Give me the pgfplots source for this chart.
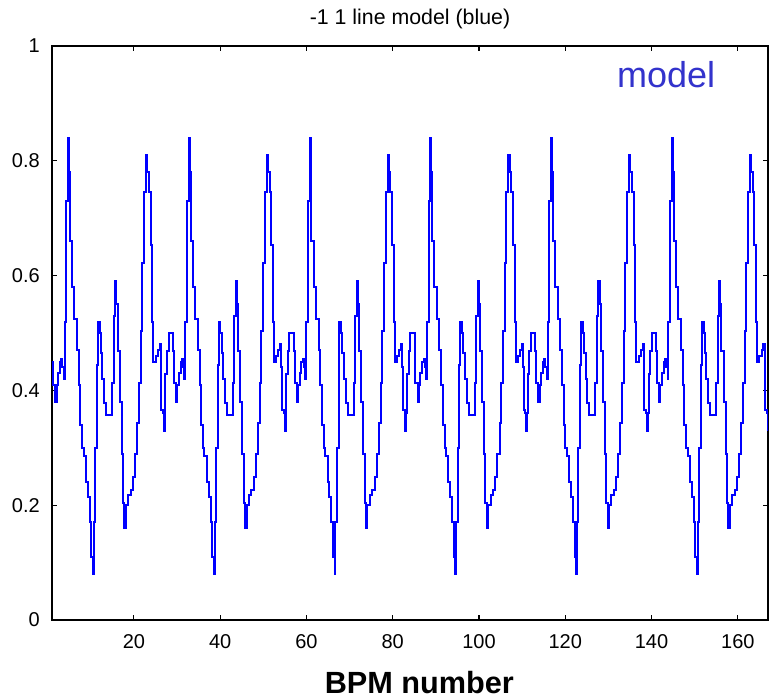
\documentclass[border=0pt]{standalone}
\usepackage{fontspec}
\setmainfont{Liberation Sans}
\usepackage{pgfplots}
\pgfplotsset{compat=1.18}
\usetikzlibrary{calc}

\definecolor{modeltext}{RGB}{51,51,204}

\begin{document}
\begin{tikzpicture}
\begin{axis}[
    width=537pt, height=430.5pt, scale only axis,
    xmin=1, xmax=167, ymin=0, ymax=1,
    xtick={20,40,...,160},
    ytick={0,0.2,0.4,0.6,0.8,1},
    yticklabels={0,0.2,0.4,0.6,0.8,1},
    tick align=inside, tick pos=both,
    major tick length=4pt,
    axis line style={line width=0.9pt},
    every tick/.style={black, line width=0.8pt},
    /pgf/number format/assume math mode=true,
    tick label style={font=\fontsize{15}{15}\selectfont},
    xticklabel style={anchor=base, yshift=-21pt},
    yticklabel style={anchor=east, inner sep=0pt, xshift=-9pt},
    title={-1 1 line model (blue)},
    title style={font=\fontsize{16}{16}\selectfont, at={(0.5,1)}, anchor=base, yshift=9.75pt},
    xlabel={BPM number},
    xlabel style={font=\fontsize{23}{23}\selectfont\bfseries, at={(0.513,0)}, anchor=base, yshift=-54.75pt},
    clip=true,
]
% period 1
\addplot[const plot, draw=blue, line width=1.5pt, line join=miter, mark=none] coordinates {
(1.00,0.45) (1.25,0.41) (1.75,0.38) (2.05,0.41) (2.40,0.43) (2.80,0.45) (3.15,0.455) (3.40,0.44) (3.70,0.42) (3.90,0.52)
(4.30,0.73) (4.75,0.84) (4.95,0.78) (5.15,0.66) (5.65,0.58) (6.20,0.525) (6.80,0.47) (7.20,0.41) (7.60,0.34) (8.00,0.30)
(8.35,0.285) (8.90,0.24) (9.30,0.215) (9.75,0.17) (10.15,0.11) (10.50,0.08) (10.70,0.17) (11.05,0.30) (11.45,0.445) (11.65,0.52)
(12.05,0.50) (12.30,0.465) (12.70,0.42) (13.10,0.378) (13.60,0.357) (15.00,0.413) (15.30,0.53) (15.70,0.59) (15.95,0.55) (16.20,0.468)
(16.70,0.38) (17.15,0.29) (17.50,0.203) (17.80,0.16) (18.10,0.20) (18.70,0.217) (19.25,0.226) (19.80,0.249) (20.25,0.29) (20.80,0.343)
(21.20,0.413) (21.55,0.503) (21.95,0.622) (22.35,0.745) (22.80,0.81) (23.10,0.78) (23.45,0.745) (23.85,0.654) (24.25,0.52) (24.50,0.45)
(25.00,0.46) (25.50,0.47) (25.95,0.48) (26.20,0.44) (26.35,0.366) (26.75,0.36) (26.95,0.33) (27.15,0.36) (27.30,0.428) (27.70,0.468)
(28.05,0.50)
% period 2
(29.05,0.468) (29.25,0.413) (29.75,0.38) (30.05,0.41) (30.40,0.43) (30.80,0.45) (31.15,0.455) (31.40,0.44) (31.70,0.42) (31.90,0.52)
(32.30,0.73) (32.75,0.84) (32.95,0.78) (33.15,0.66) (33.65,0.58) (34.20,0.525) (34.80,0.47) (35.20,0.41) (35.60,0.34) (36.00,0.30)
(36.35,0.285) (36.90,0.24) (37.30,0.215) (37.75,0.17) (38.15,0.11) (38.50,0.08) (38.70,0.17) (39.05,0.30) (39.45,0.445) (39.65,0.52)
(40.05,0.50) (40.30,0.465) (40.70,0.42) (41.10,0.378) (41.60,0.357) (43.00,0.413) (43.30,0.53) (43.70,0.59) (43.95,0.55) (44.20,0.468)
(44.70,0.38) (45.15,0.29) (45.50,0.203) (45.80,0.16) (46.10,0.20) (46.70,0.217) (47.25,0.226) (47.80,0.249) (48.25,0.29) (48.80,0.343)
(49.20,0.413) (49.55,0.503) (49.95,0.622) (50.35,0.745) (50.80,0.81) (51.10,0.78) (51.45,0.745) (51.85,0.654) (52.25,0.52) (52.50,0.45)
(53.00,0.46) (53.50,0.47) (53.95,0.48) (54.20,0.44) (54.35,0.366) (54.75,0.36) (54.95,0.33) (55.15,0.36) (55.30,0.428) (55.70,0.468)
(56.05,0.50)
% period 3
(57.05,0.468) (57.25,0.413) (57.75,0.38) (58.05,0.41) (58.40,0.43) (58.80,0.45) (59.15,0.455) (59.40,0.44) (59.70,0.42) (59.90,0.52)
(60.30,0.73) (60.75,0.84) (60.95,0.78) (61.15,0.66) (61.65,0.58) (62.20,0.525) (62.80,0.47) (63.20,0.41) (63.60,0.34) (64.00,0.30)
(64.35,0.285) (64.90,0.24) (65.30,0.215) (65.75,0.17) (66.15,0.11) (66.50,0.08) (66.70,0.17) (67.05,0.30) (67.45,0.445) (67.65,0.52)
(68.05,0.50) (68.30,0.465) (68.70,0.42) (69.10,0.378) (69.60,0.357) (71.00,0.413) (71.30,0.53) (71.70,0.59) (71.95,0.55) (72.20,0.468)
(72.70,0.38) (73.15,0.29) (73.50,0.203) (73.80,0.16) (74.10,0.20) (74.70,0.217) (75.25,0.226) (75.80,0.249) (76.25,0.29) (76.80,0.343)
(77.20,0.413) (77.55,0.503) (77.95,0.622) (78.35,0.745) (78.80,0.81) (79.10,0.78) (79.45,0.745) (79.85,0.654) (80.25,0.52) (80.50,0.45)
(81.00,0.46) (81.50,0.47) (81.95,0.48) (82.20,0.44) (82.35,0.366) (82.75,0.36) (82.95,0.33) (83.15,0.36) (83.30,0.428) (83.70,0.468)
(84.05,0.50)
% period 4
(85.05,0.468) (85.25,0.413) (85.75,0.38) (86.05,0.41) (86.40,0.43) (86.80,0.45) (87.15,0.455) (87.40,0.44) (87.70,0.42) (87.90,0.52)
(88.30,0.73) (88.75,0.84) (88.95,0.78) (89.15,0.66) (89.65,0.58) (90.20,0.525) (90.80,0.47) (91.20,0.41) (91.60,0.34) (92.00,0.30)
(92.35,0.285) (92.90,0.24) (93.30,0.215) (93.75,0.17) (94.15,0.11) (94.50,0.08) (94.70,0.17) (95.05,0.30) (95.45,0.445) (95.65,0.52)
(96.05,0.50) (96.30,0.465) (96.70,0.42) (97.10,0.378) (97.60,0.357) (99.00,0.413) (99.30,0.53) (99.70,0.59) (99.95,0.55) (100.20,0.468)
(100.70,0.38) (101.15,0.29) (101.50,0.203) (101.80,0.16) (102.10,0.20) (102.70,0.217) (103.25,0.226) (103.80,0.249) (104.25,0.29) (104.80,0.343)
(105.20,0.413) (105.55,0.503) (105.95,0.622) (106.35,0.745) (106.80,0.81) (107.10,0.78) (107.45,0.745) (107.85,0.654) (108.25,0.52) (108.50,0.45)
(109.00,0.46) (109.50,0.47) (109.95,0.48) (110.20,0.44) (110.35,0.366) (110.75,0.36) (110.95,0.33) (111.15,0.36) (111.30,0.428) (111.70,0.468)
(112.05,0.50)
% period 5
(113.05,0.468) (113.25,0.413) (113.75,0.38) (114.05,0.41) (114.40,0.43) (114.80,0.45) (115.15,0.455) (115.40,0.44) (115.70,0.42) (115.90,0.52)
(116.30,0.73) (116.75,0.84) (116.95,0.78) (117.15,0.66) (117.65,0.58) (118.20,0.525) (118.80,0.47) (119.20,0.41) (119.60,0.34) (120.00,0.30)
(120.35,0.285) (120.90,0.24) (121.30,0.215) (121.75,0.17) (122.15,0.11) (122.50,0.08) (122.70,0.17) (123.05,0.30) (123.45,0.445) (123.65,0.52)
(124.05,0.50) (124.30,0.465) (124.70,0.42) (125.10,0.378) (125.60,0.357) (127.00,0.413) (127.30,0.53) (127.70,0.59) (127.95,0.55) (128.20,0.468)
(128.70,0.38) (129.15,0.29) (129.50,0.203) (129.80,0.16) (130.10,0.20) (130.70,0.217) (131.25,0.226) (131.80,0.249) (132.25,0.29) (132.80,0.343)
(133.20,0.413) (133.55,0.503) (133.95,0.622) (134.35,0.745) (134.80,0.81) (135.10,0.78) (135.45,0.745) (135.85,0.654) (136.25,0.52) (136.50,0.45)
(137.00,0.46) (137.50,0.47) (137.95,0.48) (138.20,0.44) (138.35,0.366) (138.75,0.36) (138.95,0.33) (139.15,0.36) (139.30,0.428) (139.70,0.468)
(140.05,0.50)
% period 6
(141.05,0.468) (141.25,0.413) (141.75,0.38) (142.05,0.41) (142.40,0.43) (142.80,0.45) (143.15,0.455) (143.40,0.44) (143.70,0.42) (143.90,0.52)
(144.30,0.73) (144.75,0.84) (144.95,0.78) (145.15,0.66) (145.65,0.58) (146.20,0.525) (146.80,0.47) (147.20,0.41) (147.60,0.34) (148.00,0.30)
(148.35,0.285) (148.90,0.24) (149.30,0.215) (149.75,0.17) (150.15,0.11) (150.50,0.08) (150.70,0.17) (151.05,0.30) (151.45,0.445) (151.65,0.52)
(152.05,0.50) (152.30,0.465) (152.70,0.42) (153.10,0.378) (153.60,0.357) (155.00,0.413) (155.30,0.53) (155.70,0.59) (155.95,0.55) (156.20,0.468)
(156.70,0.38) (157.15,0.29) (157.50,0.203) (157.80,0.16) (158.10,0.20) (158.70,0.217) (159.25,0.226) (159.80,0.249) (160.25,0.29) (160.80,0.343)
(161.20,0.413) (161.55,0.503) (161.95,0.622) (162.35,0.745) (162.80,0.81) (163.10,0.78) (163.45,0.745) (163.85,0.654) (164.25,0.52) (164.50,0.45)
(165.00,0.46) (165.50,0.47) (165.95,0.48) (166.20,0.44) (166.35,0.366) (166.75,0.36) (167.00,0.33)
};
\node[anchor=base west, text=modeltext, font=\fontsize{27}{27}\selectfont, inner sep=0pt] at (rel axis cs:0.789,0.927) {model};
\coordinate (sw) at (rel axis cs:0,0);
\coordinate (ne) at (rel axis cs:1,1);
\end{axis}
\pgfresetboundingbox
\path[use as bounding box] ($(sw)+(-39pt,-59.25pt)$) rectangle ($(ne)+(0.75pt,34.5pt)$);
\end{tikzpicture}
\end{document}
